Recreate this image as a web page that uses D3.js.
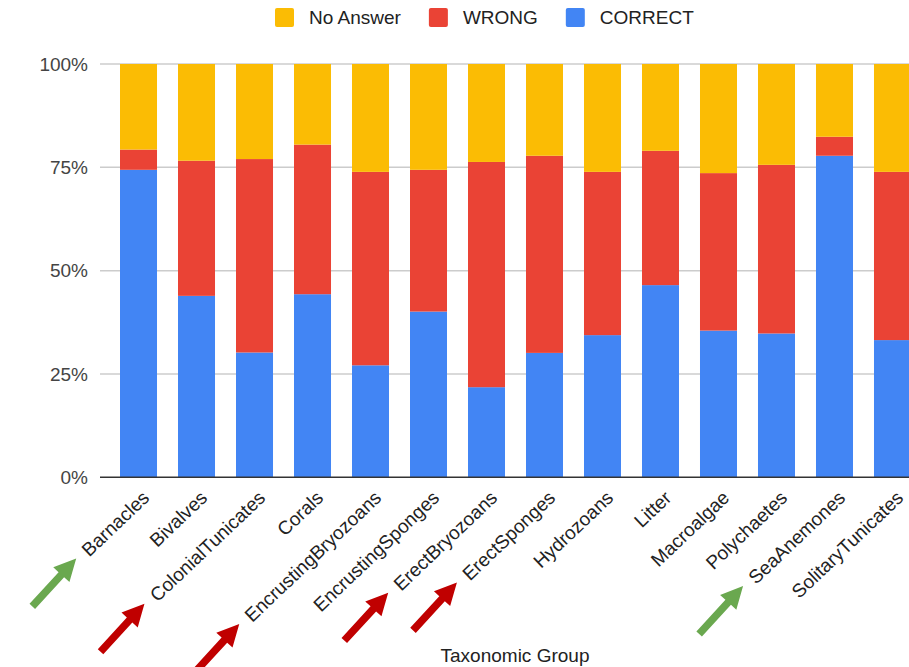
<!DOCTYPE html>
<html>
<head>
<meta charset="utf-8">
<script src="https://cdn.jsdelivr.net/npm/d3@7"></script>
<style>
  html, body { margin: 0; padding: 0; background: #fff; }
  svg { display: block; font-family: "Liberation Sans", Arial, sans-serif; }
</style>
</head>
<body>
<svg id="chart" width="909" height="667"></svg>
<script>
// ---- data ----
const categories = ["Barnacles", "Bivalves", "ColonialTunicates", "Corals", "EncrustingBryozoans",
  "EncrustingSponges", "ErectBryozoans", "ErectSponges", "Hydrozoans", "Litter", "Macroalgae",
  "Polychaetes", "SeaAnemones", "SolitaryTunicates"];
const correct  = [74.4, 43.9, 30.2, 44.3, 27.1, 40.1, 21.8, 30.1, 34.4, 46.5, 35.5, 34.8, 77.8, 33.2];
const wrong    = [ 4.9, 32.7, 46.8, 36.2, 46.8, 34.3, 54.5, 47.7, 39.5, 32.5, 38.1, 40.8,  4.6, 40.7];
const noAnswer = [20.7, 23.4, 23.0, 19.5, 26.1, 25.6, 23.7, 22.2, 26.1, 21.0, 26.4, 24.4, 17.6, 26.1];
const seriesNames = ["CORRECT", "WRONG", "No Answer"];
const legendOrder = ["No Answer", "WRONG", "CORRECT"];
const yTicks = [0, 25, 50, 75, 100];
const xTitle = "Taxonomic Group";
const goodGroups = ["Barnacles", "SeaAnemones"];
const badGroups = ["ColonialTunicates", "EncrustingBryozoans", "ErectBryozoans", "ErectSponges"];

// ---- styles ----
const colors = { "CORRECT": "#4285f4", "WRONG": "#ea4335", "No Answer": "#fbbc04" };
const arrowColors = { good: "#6aa84f", bad: "#c00000" };
const FONT = 19;

const svg = d3.select("#chart");
const W = 909, H = 667;

const x = d3.scaleBand().domain(categories).range([100, 931]).paddingInner(0.362).paddingOuter(0.345);
const y = d3.scaleLinear().domain([0, 100]).range([477.3, 64]);

// table for stacking
const table = categories.map((c, i) => ({ cat: c, "CORRECT": correct[i], "WRONG": wrong[i], "No Answer": noAnswer[i] }));
const stacked = d3.stack().keys(seriesNames)(table);

// gridlines
svg.append("g").selectAll("line").data(yTicks.filter(t => t > 0)).join("line")
  .attr("x1", 100).attr("x2", W)
  .attr("y1", d => y(d)).attr("y2", d => y(d))
  .attr("stroke", "#cccccc").attr("stroke-width", 1.5);

// y tick labels
svg.append("g").selectAll("text").data(yTicks).join("text")
  .attr("x", 88).attr("y", d => y(d)).attr("dy", "0.35em")
  .attr("text-anchor", "end").attr("font-size", FONT).attr("fill", "#444")
  .text(d => d + "%");

// bars
svg.append("g").selectAll("g").data(stacked).join("g")
  .attr("fill", s => colors[s.key])
  .selectAll("rect").data(s => s).join("rect")
  .attr("x", d => x(d.data.cat))
  .attr("width", x.bandwidth())
  .attr("y", d => y(d[1]))
  .attr("height", d => y(d[0]) - y(d[1]));

// baseline
svg.append("line").attr("x1", 100).attr("x2", W).attr("y1", y(0)).attr("y2", y(0))
  .attr("stroke", "#333").attr("stroke-width", 1.5);

// x labels
const ANG = 43.5;
const rad = ANG * Math.PI / 180;
const labelDx = 12, labelY = y(0) + 22;
const labels = svg.append("g").selectAll("text").data(categories).join("text")
  .attr("text-anchor", "end").attr("font-size", FONT).attr("fill", "#222")
  .attr("transform", d => `translate(${x(d) + x.bandwidth() / 2 + labelDx},${labelY}) rotate(${-ANG})`)
  .text(d => d);

// arrows pointing at label starts
const ARROW_ANG = 47.5;
const arrowLen = 65, shaftW = 7.5, headW = 22, headL = 22;
function arrowPath() {
  // arrow pointing along +x, tip at origin
  return `M0,0 L${-headL},${-headW / 2} L${-headL},${-shaftW / 2} L${-arrowLen},${-shaftW / 2} ` +
         `L${-arrowLen},${shaftW / 2} L${-headL},${shaftW / 2} L${-headL},${headW / 2} Z`;
}
const arrowData = goodGroups.map(g => ({ g, kind: "good" })).concat(badGroups.map(g => ({ g, kind: "bad" })));
labels.each(function (d) {
  const a = arrowData.find(e => e.g === d);
  if (!a) return;
  const L = this.getComputedTextLength();
  const ax = x(d) + x.bandwidth() / 2 + labelDx;
  const sx = ax - L * Math.cos(rad), sy = labelY + L * Math.sin(rad);
  const tipX = sx - 13, tipY = sy + 1;
  svg.append("path").attr("d", arrowPath())
    .attr("fill", arrowColors[a.kind])
    .attr("transform", `translate(${tipX},${tipY}) rotate(${-ARROW_ANG})`);
});

// x axis title
svg.append("text").attr("x", 515).attr("y", 662).attr("text-anchor", "middle")
  .attr("font-size", FONT).attr("fill", "#222").text(xTitle);

// legend
const lg = svg.append("g");
let lx = 275;
legendOrder.forEach(k => {
  lg.append("rect").attr("x", lx).attr("y", 8).attr("width", 19).attr("height", 19).attr("rx", 2)
    .attr("fill", colors[k]);
  const t = lg.append("text").attr("x", lx + 34).attr("y", 23.5).attr("font-size", FONT).attr("fill", "#222").text(k);
  lx += 34 + t.node().getComputedTextLength() + 28;
});
</script>
</body>
</html>
